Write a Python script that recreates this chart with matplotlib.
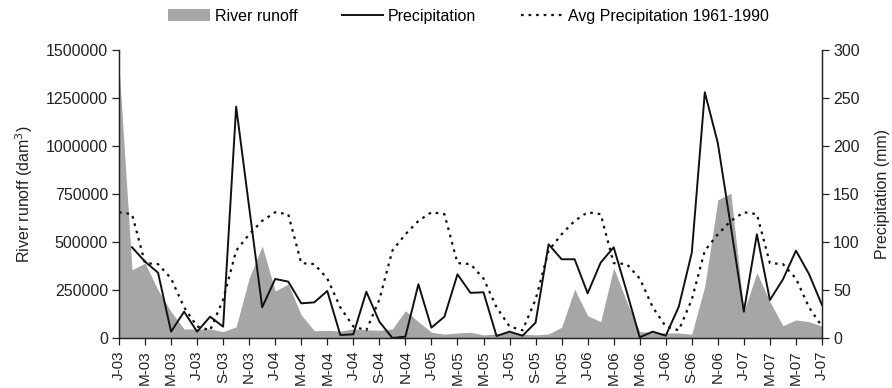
import numpy as np
import matplotlib
matplotlib.use("Agg")
import matplotlib.pyplot as plt
from matplotlib.patches import Patch
from matplotlib.lines import Line2D

plt.rcParams['font.family'] = ['Liberation Sans', 'DejaVu Sans']

# monthly series, Jan 2003 - Jul 2007
month_letters = ['J', 'F', 'M', 'A', 'M', 'J', 'J', 'A', 'S', 'O', 'N', 'D']
years = [3, 4, 5, 6, 7]

runoff = [1420000, 355000, 390000, 250000, 137000, 47000, 47000, 47000, 33000, 58000,
          312000, 479000, 245000, 281000, 120000, 38000, 40000, 36000, 47000, 43000,
          40000, 47000, 142000, 85000, 30000, 20000, 26000, 30000, 16000, 21000,
          30000, 21000, 16000, 21000, 56000, 254000, 116000, 85000, 366000, 189000,
          33000, 30000, 26000, 26000, 20000, 270000, 719000, 754000, 137000, 340000,
          189000, 64000, 94000, 85000, 62000]

precip = [np.nan, 94.5, 79.5, 68, 6.6, 27.4, 6.6, 22.2, 11.8, 241,
          136, 32, 61.5, 58.7, 36.1, 37.1, 49, 3.1, 3.8, 48.2,
          17, 0, 1.4, 56, 10.8, 22.2, 66.3, 47, 47.6, 2.1,
          6.6, 2.4, 16, 97.6, 82, 82, 46.5, 78.5, 94.5, 48.3,
          0.7, 6.6, 2.4, 32.6, 88.9, 256, 203, 116, 27.4, 108,
          39.6, 61, 91, 66.7, 34.4]

avg_precip = [131, 129, 78, 77, 62, 32, 12, 8, 40, 91, 108, 122,
              131, 129, 78, 77, 62, 32, 12, 8, 40, 91, 108, 122,
              131, 129, 78, 77, 62, 32, 12, 8, 40, 91, 108, 122,
              131, 129, 78, 77, 62, 32, 12, 8, 40, 91, 108, 122,
              131, 129, 78, 77, 62, 32, 12]

labels = [f"{month_letters[i % 12]}-{years[i // 12]:02d}" for i in range(len(runoff))]
x = np.arange(len(runoff))

fs = 11.5
ink = '#222222'

fig = plt.figure(figsize=(8.92, 3.88), dpi=100)
ax = fig.add_axes([0.1334, 0.1289, 0.7881, 0.7422])
ax2 = ax.twinx()

ax.fill_between(x, runoff, color='#a6a6a6', linewidth=0)
ax2.plot(x, precip, color='#111111', lw=1.4)
ax2.plot(x, avg_precip, color='#111111', lw=1.6, linestyle=(0, (1.2, 2.2)))

ax.set_xlim(0, len(runoff) - 1)
ax.set_ylim(0, 1500000)
ax2.set_ylim(0, 300)
ax.set_yticks(np.arange(0, 1500001, 250000))
ax.set_yticklabels([f"{v:d}" for v in range(0, 1500001, 250000)])
ax2.set_yticks(np.arange(0, 301, 50))

ax.set_xticks(x[::2])
ax.set_xticklabels(labels[::2], rotation=90)

for a in (ax, ax2):
    a.spines['top'].set_visible(False)
    for s in a.spines.values():
        s.set_color(ink)
        s.set_linewidth(0.9)
    a.tick_params(direction='out', length=5, width=0.9, colors=ink,
                  labelsize=fs, labelcolor=ink, pad=3)
ax.tick_params(axis='x', pad=4, labelsize=11)

ax.set_ylabel('River runoff (dam$^3$)', fontsize=fs, color=ink, labelpad=8)
ax2.set_ylabel('Precipitation (mm)', fontsize=fs, color=ink, labelpad=11)

handles = [Patch(facecolor='#a6a6a6', edgecolor='none'),
           Line2D([0], [0], color='#111111', lw=1.4),
           Line2D([0], [0], color='#111111', lw=1.6, linestyle=(0, (1.2, 2.2)))]
fig.legend(handles, ['River runoff', 'Precipitation', 'Avg Precipitation 1961-1990'],
           loc='upper center', bbox_to_anchor=(0.525, 1.015), ncol=3, frameon=False,
           fontsize=fs, handlelength=2.6, handletextpad=0.3, columnspacing=2.8)

fig.savefig('out.png', dpi=100)
